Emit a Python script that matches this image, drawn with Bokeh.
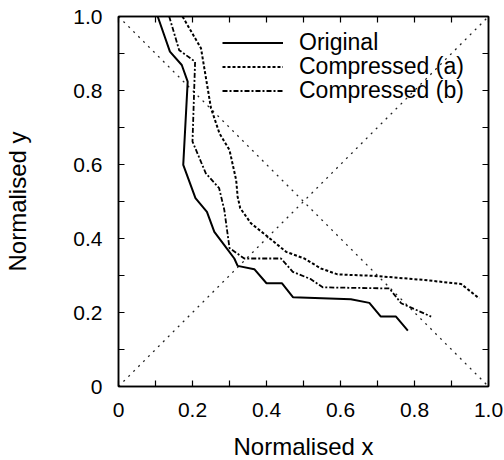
from bokeh.plotting import figure
from bokeh.models import LinearAxis, FixedTicker, Range1d, Legend, LegendItem
from bokeh.embed import file_html
from bokeh.resources import INLINE

# ---- data ----
orig_x = [0.106, 0.139, 0.171, 0.187, 0.175, 0.208, 0.239, 0.259, 0.286, 0.313,
          0.322, 0.367, 0.400, 0.442, 0.472, 0.628, 0.678, 0.709, 0.750, 0.782]
orig_y = [1.0, 0.905, 0.869, 0.824, 0.599, 0.509, 0.472, 0.418, 0.382, 0.346,
          0.326, 0.317, 0.279, 0.279, 0.241, 0.236, 0.226, 0.189, 0.189, 0.151]

comp_a_x = [0.173, 0.223, 0.250, 0.273, 0.300, 0.318, 0.322, 0.329, 0.358, 0.403,
            0.453, 0.502, 0.547, 0.592, 0.691, 0.826, 0.926, 0.975]
comp_a_y = [1.0, 0.914, 0.752, 0.684, 0.639, 0.558, 0.513, 0.482, 0.441, 0.405,
            0.364, 0.346, 0.319, 0.303, 0.299, 0.288, 0.277, 0.238]

comp_b_x = [0.137, 0.164, 0.207, 0.200, 0.236, 0.272, 0.286, 0.300, 0.340, 0.439,
            0.471, 0.520, 0.552, 0.732, 0.764, 0.845]
comp_b_y = [1.0, 0.909, 0.878, 0.662, 0.576, 0.536, 0.477, 0.374, 0.346, 0.346,
            0.310, 0.290, 0.268, 0.265, 0.225, 0.189]

diag_up_x = [0.0, 1.0]
diag_up_y = [0.0, 1.0]
diag_down_x = [0.0, 1.0]
diag_down_y = [1.0, 0.0]

tick_values = [0.0, 0.1, 0.2, 0.3, 0.4, 0.5, 0.6, 0.7, 0.8, 0.9, 1.0]
tick_labels = ["0", "", "0.2", "", "0.4", "", "0.6", "", "0.8", "", "1.0"]

series_names = ["Original", "Compressed (a)", "Compressed (b)"]

FONT = "Liberation Sans"

p = figure(frame_width=370, frame_height=370,
           output_backend="svg", toolbar_location=None,
           x_range=Range1d(0, 1), y_range=Range1d(0, 1),
           min_border_left=118, min_border_top=16, min_border_right=16,
           min_border_bottom=73, x_axis_type=None, y_axis_type=None)
p.grid.visible = False
p.outline_line_color = "black"
p.outline_line_width = 1.5
p.background_fill_color = "white"
p.border_fill_color = "white"

overrides = {v: l for v, l in zip(tick_values, tick_labels)}


def make_axis(label=None, show_labels=True):
    ax = LinearAxis(ticker=FixedTicker(ticks=tick_values, minor_ticks=[]))
    ax.major_label_overrides = overrides
    ax.major_tick_in = 6
    ax.major_tick_out = 0
    ax.major_tick_line_width = 1.2
    ax.axis_line_width = 1.5
    ax.axis_line_color = "black"
    ax.major_tick_line_color = "black"
    ax.minor_tick_line_color = None
    if show_labels:
        ax.major_label_text_font = FONT
        ax.major_label_text_font_size = "21px"
        ax.major_label_text_color = "black"
        ax.major_label_standoff = 16
    else:
        ax.major_label_text_font_size = "0px"
        ax.major_label_standoff = 0
    if label:
        ax.axis_label = label
        ax.axis_label_text_font = FONT
        ax.axis_label_text_font_size = "24px"
        ax.axis_label_text_font_style = "normal"
        ax.axis_label_text_color = "black"
    return ax


xb = make_axis("Normalised x")
xb.axis_label_standoff = 13
yl = make_axis("Normalised y")
yl.axis_label_standoff = 39
p.add_layout(xb, "below")
p.add_layout(yl, "left")
p.add_layout(make_axis(show_labels=False), "above")
p.add_layout(make_axis(show_labels=False), "right")

p.line(diag_up_x, diag_up_y, line_color="#222222", line_width=1.3, line_dash="2 5")
p.line(diag_down_x, diag_down_y, line_color="#222222", line_width=1.3, line_dash="2 5")

r0 = p.line(orig_x, orig_y, line_color="black", line_width=2)
r1 = p.line(comp_a_x, comp_a_y, line_color="black", line_width=2, line_dash="3 2")
r2 = p.line(comp_b_x, comp_b_y, line_color="black", line_width=1.8, line_dash="5 2 2 2")

legend_rows = [(series_names[0], r0, 330), (series_names[1], r1, 306), (series_names[2], r2, 282)]
for name, rend, ypos in legend_rows:
    lg = Legend(items=[LegendItem(label=name, renderers=[rend])], location=(104, ypos))
    lg.border_line_alpha = 0
    lg.background_fill_alpha = 0
    lg.label_text_font = FONT
    lg.label_text_font_size = "23px"
    lg.label_text_color = "black"
    lg.glyph_width = 61
    lg.glyph_height = 23
    lg.label_height = 23
    lg.label_standoff = 16
    lg.spacing = 0
    lg.padding = 0
    lg.margin = 0
    p.add_layout(lg, "center")

open("out.html", "w").write(file_html(p, INLINE))
